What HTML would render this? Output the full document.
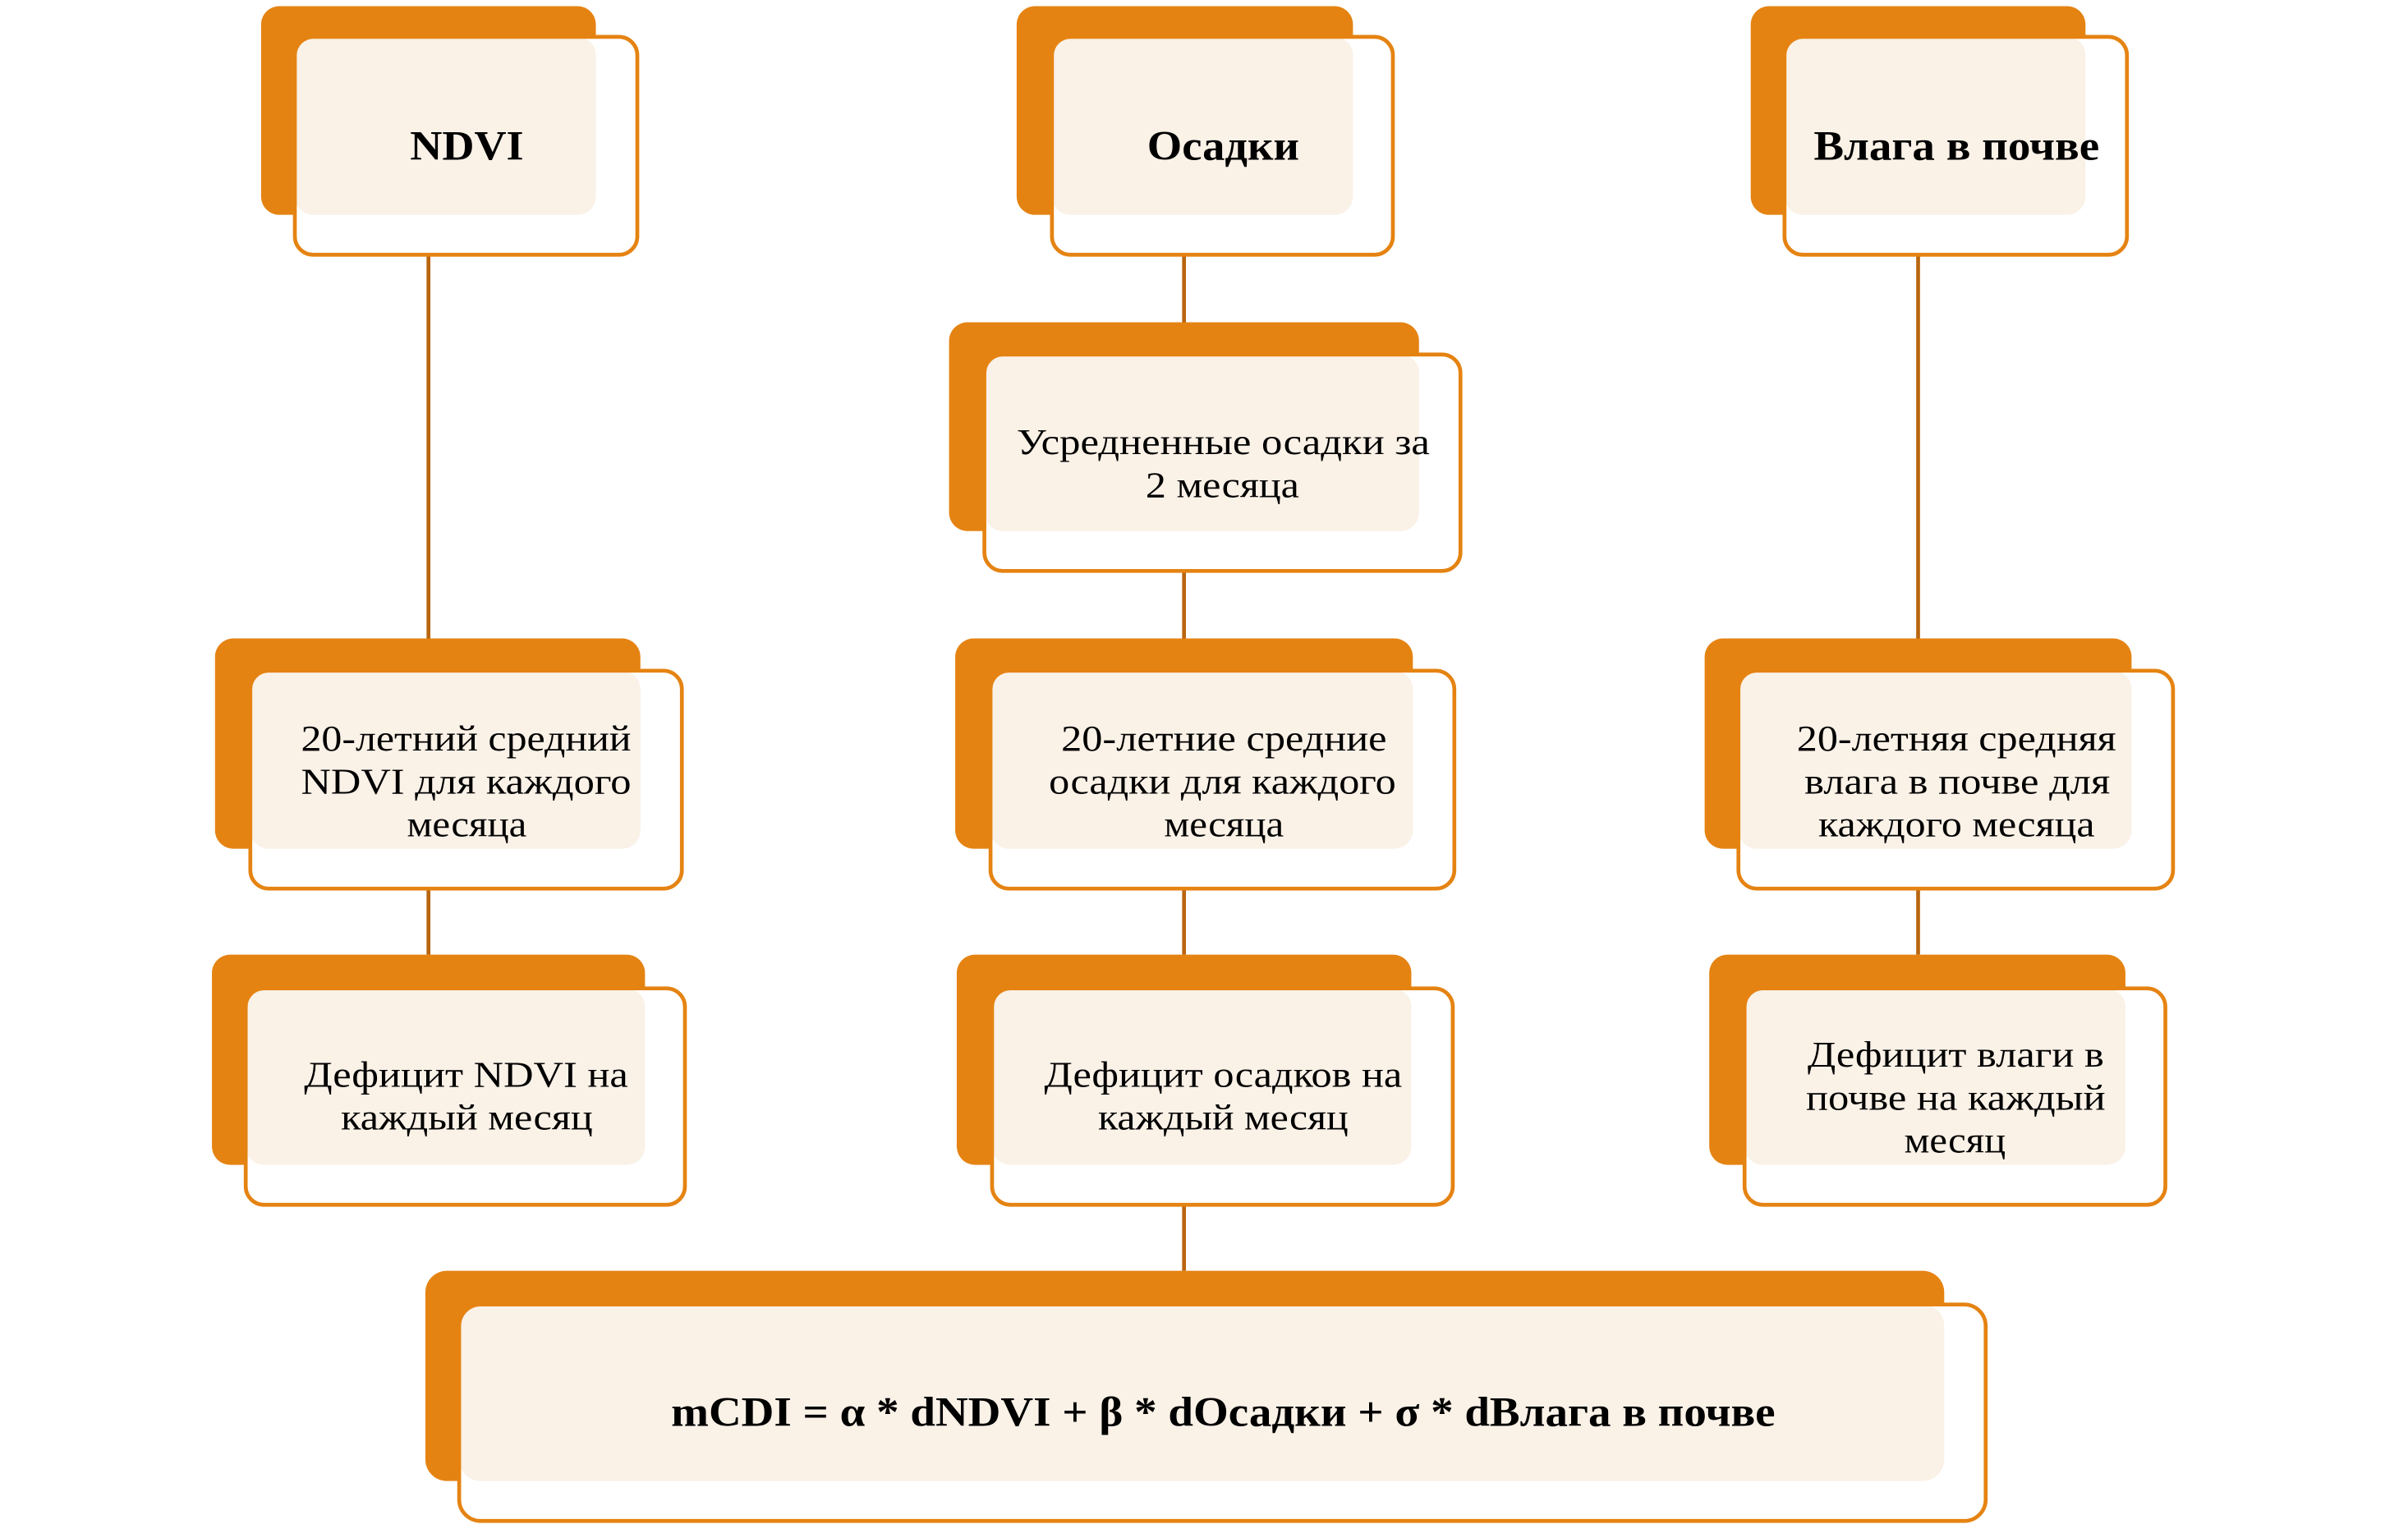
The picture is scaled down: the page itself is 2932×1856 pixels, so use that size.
<!DOCTYPE html>
<html><head><meta charset="utf-8"><style>html,body{margin:0;padding:0;background:#fff}svg{display:block}</style></head>
<body>
<svg width="2932" height="1856" viewBox="0 0 1568 993" preserveAspectRatio="none" xmlns="http://www.w3.org/2000/svg" font-family="Liberation Serif, serif">
<g stroke="#B8650F" stroke-width="2.5">
<line x1="279" y1="166" x2="279" y2="416"/><line x1="279" y1="579" x2="279" y2="622"/>
<line x1="771" y1="166" x2="771" y2="210"/><line x1="771" y1="372" x2="771" y2="416"/>
<line x1="771" y1="579" x2="771" y2="622"/><line x1="771" y1="785" x2="771" y2="828"/>
<line x1="1249" y1="166" x2="1249" y2="416"/><line x1="1249" y1="579" x2="1249" y2="622"/>
</g>
<defs>
<g id="n"></g>
</defs>
<!-- boxes: back (bx,by,bx2,by2), front (fx,fy,fx2,fy2) -->
<g id="boxes">
<!-- NDVI -->
<rect x="170" y="4" width="218" height="136" rx="12" fill="#E58312"/>
<rect x="192" y="24" width="223" height="142" rx="12" fill="#fff"/>
<rect x="192" y="24" width="196" height="116" rx="12" fill="#FAF1E7"/>
<rect x="192" y="24" width="223" height="142" rx="12" fill="none" stroke="#E58312" stroke-width="2.5"/>
<!-- Osadki -->
<rect x="662" y="4" width="219" height="136" rx="12" fill="#E58312"/>
<rect x="685" y="24" width="222" height="142" rx="12" fill="#fff"/>
<rect x="685" y="24" width="196" height="116" rx="12" fill="#FAF1E7"/>
<rect x="685" y="24" width="222" height="142" rx="12" fill="none" stroke="#E58312" stroke-width="2.5"/>
<!-- Vlaga -->
<rect x="1140" y="4" width="218" height="136" rx="12" fill="#E58312"/>
<rect x="1162" y="24" width="223" height="142" rx="12" fill="#fff"/>
<rect x="1162" y="24" width="196" height="116" rx="12" fill="#FAF1E7"/>
<rect x="1162" y="24" width="223" height="142" rx="12" fill="none" stroke="#E58312" stroke-width="2.5"/>
<!-- Avg -->
<rect x="618" y="210" width="306" height="136" rx="12" fill="#E58312"/>
<rect x="641" y="231" width="310" height="141" rx="12" fill="#fff"/>
<rect x="641" y="231" width="283" height="115" rx="12" fill="#FAF1E7"/>
<rect x="641" y="231" width="310" height="141" rx="12" fill="none" stroke="#E58312" stroke-width="2.5"/>
<!-- row3 -->
<rect x="140" y="416" width="277" height="137" rx="12" fill="#E58312"/>
<rect x="163" y="437" width="281" height="142" rx="12" fill="#fff"/>
<rect x="163" y="437" width="254" height="116" rx="12" fill="#FAF1E7"/>
<rect x="163" y="437" width="281" height="142" rx="12" fill="none" stroke="#E58312" stroke-width="2.5"/>
<rect x="622" y="416" width="298" height="137" rx="12" fill="#E58312"/>
<rect x="645" y="437" width="302" height="142" rx="12" fill="#fff"/>
<rect x="645" y="437" width="275" height="116" rx="12" fill="#FAF1E7"/>
<rect x="645" y="437" width="302" height="142" rx="12" fill="none" stroke="#E58312" stroke-width="2.5"/>
<rect x="1110" y="416" width="278" height="137" rx="12" fill="#E58312"/>
<rect x="1132" y="437" width="283" height="142" rx="12" fill="#fff"/>
<rect x="1132" y="437" width="256" height="116" rx="12" fill="#FAF1E7"/>
<rect x="1132" y="437" width="283" height="142" rx="12" fill="none" stroke="#E58312" stroke-width="2.5"/>
<!-- row4 -->
<rect x="138" y="622" width="282" height="137" rx="12" fill="#E58312"/>
<rect x="160" y="644" width="286" height="141" rx="12" fill="#fff"/>
<rect x="160" y="644" width="260" height="115" rx="12" fill="#FAF1E7"/>
<rect x="160" y="644" width="286" height="141" rx="12" fill="none" stroke="#E58312" stroke-width="2.5"/>
<rect x="623" y="622" width="296" height="137" rx="12" fill="#E58312"/>
<rect x="646" y="644" width="300" height="141" rx="12" fill="#fff"/>
<rect x="646" y="644" width="273" height="115" rx="12" fill="#FAF1E7"/>
<rect x="646" y="644" width="300" height="141" rx="12" fill="none" stroke="#E58312" stroke-width="2.5"/>
<rect x="1113" y="622" width="271" height="137" rx="12" fill="#E58312"/>
<rect x="1136" y="644" width="274" height="141" rx="12" fill="#fff"/>
<rect x="1136" y="644" width="248" height="115" rx="12" fill="#FAF1E7"/>
<rect x="1136" y="644" width="274" height="141" rx="12" fill="none" stroke="#E58312" stroke-width="2.5"/>
<!-- formula -->
<rect x="277" y="828" width="989" height="137" rx="14" fill="#E58312"/>
<rect x="299" y="850" width="994" height="141" rx="14" fill="#fff"/>
<rect x="299" y="850" width="967" height="115" rx="14" fill="#FAF1E7"/>
<rect x="299" y="850" width="994" height="141" rx="14" fill="none" stroke="#E58312" stroke-width="2.5"/>
</g>
<g fill="#000" font-size="24" lengthAdjust="spacingAndGlyphs">
<text x="267" y="104" font-weight="bold" font-size="27" textLength="74" lengthAdjust="spacingAndGlyphs">NDVI</text>
<text x="747" y="104" font-weight="bold" font-size="27" textLength="99" lengthAdjust="spacingAndGlyphs">Осадки</text>
<text x="1181" y="104" font-weight="bold" font-size="27" textLength="186" lengthAdjust="spacingAndGlyphs">Влага в почве</text>
<text x="662" y="296" textLength="269" lengthAdjust="spacingAndGlyphs">Усредненные осадки за</text>
<text x="746" y="324" textLength="100" lengthAdjust="spacingAndGlyphs">2 месяца</text>
<text x="196" y="489" textLength="215" lengthAdjust="spacingAndGlyphs">20-летний средний</text>
<text x="196" y="517" textLength="215" lengthAdjust="spacingAndGlyphs">NDVI для каждого</text>
<text x="265" y="545" textLength="78" lengthAdjust="spacingAndGlyphs">месяца</text>
<text x="691" y="489" textLength="212" lengthAdjust="spacingAndGlyphs">20-летние средние</text>
<text x="683" y="517" textLength="226" lengthAdjust="spacingAndGlyphs">осадки для каждого</text>
<text x="758" y="545" textLength="78" lengthAdjust="spacingAndGlyphs">месяца</text>
<text x="1170" y="489" textLength="208" lengthAdjust="spacingAndGlyphs">20-летняя средняя</text>
<text x="1175" y="517" textLength="199" lengthAdjust="spacingAndGlyphs">влага в почве для</text>
<text x="1184" y="545" textLength="180" lengthAdjust="spacingAndGlyphs">каждого месяца</text>
<text x="198" y="708" textLength="211" lengthAdjust="spacingAndGlyphs">Дефицит NDVI на</text>
<text x="222" y="736" textLength="164" lengthAdjust="spacingAndGlyphs">каждый месяц</text>
<text x="680" y="708" textLength="233" lengthAdjust="spacingAndGlyphs">Дефицит осадков на</text>
<text x="715" y="736" textLength="163" lengthAdjust="spacingAndGlyphs">каждый месяц</text>
<text x="1177" y="695" textLength="193" lengthAdjust="spacingAndGlyphs">Дефицит влаги в</text>
<text x="1176" y="723" textLength="195" lengthAdjust="spacingAndGlyphs">почве на каждый</text>
<text x="1240" y="751" textLength="66" lengthAdjust="spacingAndGlyphs">месяц</text>
<text x="437" y="929" font-weight="bold" font-size="27" textLength="719" lengthAdjust="spacingAndGlyphs">mCDI = α * dNDVI + β * dОсадки + σ * dВлага в почве</text>
</g>
</svg>
</body></html>
